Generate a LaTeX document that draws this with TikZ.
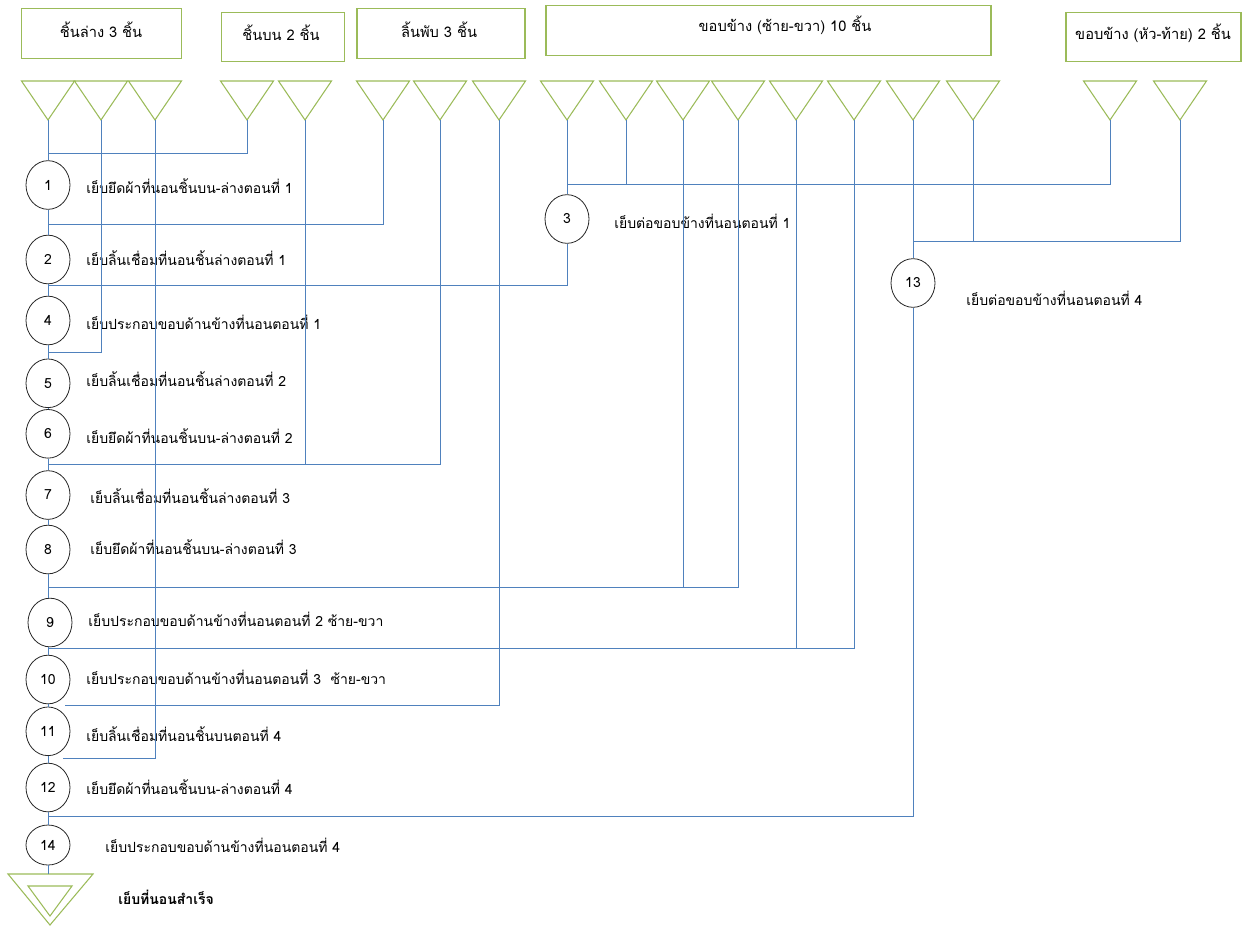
\documentclass[tikz,border=0pt]{standalone}
\usepackage{fontspec}
\newfontfamily\thaifont[Script=Thai]{Loma}
\usetikzlibrary{shapes.geometric}

\definecolor{boxgreen}{RGB}{155,187,89}
\definecolor{linkblue}{RGB}{79,129,189}

\tikzset{
  box/.style={draw=boxgreen, line width=0.8pt, rectangle, inner sep=0pt},
  boxtext/.style={inner sep=0pt, font=\thaifont\fontsize{11}{13}\selectfont},
  tri/.style={draw=boxgreen, line width=0.8pt},
  link/.style={draw=linkblue, line width=0.75pt},
  stepnode/.style={draw=black!85, ellipse, line width=0.6pt, minimum width=33pt,
    minimum height=36.5pt, inner sep=0pt, font=\thaifont\fontsize{10.5}{12}\selectfont},
  lbl/.style={anchor=west, inner sep=0pt, font=\thaifont\fontsize{10.5}{12}\selectfont}
}

\begin{document}
\begin{tikzpicture}[x=0.75pt,y=-0.75pt]
  \useasboundingbox (0,0) rectangle (1244,926);

  % part boxes
  \node[box, minimum width=120pt, minimum height=37.5pt] (b1) at (101.7,33.3) {};
  \node[box, minimum width=92pt, minimum height=37pt] (b2) at (282.7,37) {};
  \node[box, minimum width=126pt, minimum height=37.5pt] (b3) at (441,33.3) {};
  \node[box, minimum width=333.75pt, minimum height=37.2pt] (b4) at (768.5,30.5) {};
  \node[box, minimum width=131.25pt, minimum height=36.75pt] (b5) at (1153.5,37.2) {};
  \node[boxtext] (b1t) at (101,30) {ชิ้นล่าง 3 ชิ้น};
  \node[boxtext] (b2t) at (281,33) {ชิ้นบน 2 ชิ้น};
  \node[boxtext] (b3t) at (439,30) {ลิ้นพับ 3 ชิ้น};
  \node[boxtext] (b4t) at (785,25) {ขอบข้าง (ซ้าย-ขวา) 10 ชิ้น};
  \node[boxtext] (b5t) at (1153,33) {ขอบข้าง (หัว-ท้าย) 2 ชิ้น};

  % storage triangles
  \foreach \n/\x in {1/48,2/101,3/155,4/247,5/305,6/383,7/440,8/499,9/567,
      10/626,11/683,12/738,13/796,14/854,15/913,16/973,17/1110,18/1180}{
    \draw[tri] ({\x-26.5},81) -- ({\x+26.5},81) -- (\x,120) -- cycle;
    \coordinate (t\n) at (\x,120);
  }

  % sewing steps
  \node[stepnode] (c1) at (48,185) {1};
  \node[stepnode] (c2) at (48,259.5) {2};
  \node[stepnode] (c4) at (48,320.5) {4};
  \node[stepnode] (c5) at (48,383.3) {5};
  \node[stepnode] (c6) at (48,433.8) {6};
  \node[stepnode] (c7) at (48,495) {7};
  \node[stepnode] (c8) at (48,549.5) {8};
  \node[stepnode] (c9) at (50,622.5) {9};
  \node[stepnode] (c10) at (48,679.5) {10};
  \node[stepnode] (c11) at (48,731.3) {11};
  \node[stepnode] (c12) at (48,787.5) {12};
  \node[stepnode, minimum height=30pt] (c14) at (48,845) {14};
  \node[stepnode] (c3) at (567,219) {3};
  \node[stepnode] (c13) at (913,283) {13};

  \node[lbl] (l1) at (86,186) {เย็บยึดผ้าที่นอนชิ้นบน-ล่างตอนที่ 1};
  \node[lbl] (l2) at (86,258) {เย็บลิ้นเชื่อมที่นอนชิ้นล่างตอนที่ 1};
  \node[lbl] (l3) at (614,221) {เย็บต่อขอบข้างที่นอนตอนที่ 1};
  \node[lbl] (l4) at (86,322) {เย็บประกอบขอบด้านข้างที่นอนตอนที่ 1};
  \node[lbl] (l5) at (86,379) {เย็บลิ้นเชื่อมที่นอนชิ้นล่างตอนที่ 2};
  \node[lbl] (l6) at (86,436) {เย็บยึดผ้าที่นอนชิ้นบน-ล่างตอนที่ 2};
  \node[lbl] (l7) at (90,496) {เย็บลิ้นเชื่อมที่นอนชิ้นล่างตอนที่ 3};
  \node[lbl] (l8) at (90,547) {เย็บยึดผ้าที่นอนชิ้นบน-ล่างตอนที่ 3};
  \node[lbl] (l9) at (88,619) {เย็บประกอบขอบด้านข้างที่นอนตอนที่ 2 ซ้าย-ขวา};
  \node[lbl] (l10) at (86,677) {เย็บประกอบขอบด้านข้างที่นอนตอนที่ 3~ ซ้าย-ขวา};
  \node[lbl] (l11) at (86,734) {เย็บลิ้นเชื่อมที่นอนชิ้นบนตอนที่ 4};
  \node[lbl] (l12) at (86,787) {เย็บยึดผ้าที่นอนชิ้นบน-ล่างตอนที่ 4};
  \node[lbl] (l13) at (966,298) {เย็บต่อขอบข้างที่นอนตอนที่ 4};
  \node[lbl] (l14) at (105,845) {เย็บประกอบขอบด้านข้างที่นอนตอนที่ 4};

  % finished
  \draw[tri] (8,874) -- (93,874) -- (50,925) -- cycle;
  \draw[tri] (28,886) -- (72,886) -- (50,916) -- cycle;
  \coordinate (fin) at (48,874);
  \node[lbl, font=\thaifont\bfseries\fontsize{10.5}{12}\selectfont] (lfin) at (118,897) {เย็บที่นอนสำเร็จ};

  % junctions on the lines
  \coordinate (j1) at (48,153);
  \coordinate (j2) at (48,224.3);
  \coordinate (j3) at (567,184.3);
  \coordinate (j4) at (48,285.7);
  \coordinate (j5) at (913,241);
  \coordinate (j6) at (48,352.7);
  \coordinate (j7) at (48,464);
  \coordinate (j8) at (48,587.3);
  \coordinate (j9) at (49,648.3);
  \coordinate (j10) at (65,705);
  \coordinate (j11) at (63,758);
  \coordinate (j12) at (48,816.7);

  % flow lines
  \draw[link] (t1) -- (c1) -- (c2) -- (c4) -- (c5) -- (c6) -- (c7) -- (c8);
  \draw[link] (c8) -- (c8 |- c9.north);
  \draw[link] (c10 |- c9.south) -- (c10) -- (c11) -- (c12) -- (c14) -- (fin);
  \draw[link] (t4) |- (j1);
  \draw[link] (t6) |- (j2);
  \draw[link] (t9) -- (c3);
  \draw[link] (c3) |- (j4);
  \draw[link] (t17) |- (j3);
  \draw[link] (t10) -- (t10 |- j3);
  \draw[link] (t15) -- (c13);
  \draw[link] (c13) |- (j12);
  \draw[link] (t18) |- (j5);
  \draw[link] (t16) -- (t16 |- j5);
  \draw[link] (t2) |- (j6);
  \draw[link] (t7) |- (j7);
  \draw[link] (t5) -- (t5 |- j7);
  \draw[link] (t12) |- (j8);
  \draw[link] (t11) -- (t11 |- j8);
  \draw[link] (t14) |- (j9);
  \draw[link] (t13) -- (t13 |- j9);
  \draw[link] (t8) |- (j10);
  \draw[link] (t3) |- (j11);
\end{tikzpicture}
\end{document}
